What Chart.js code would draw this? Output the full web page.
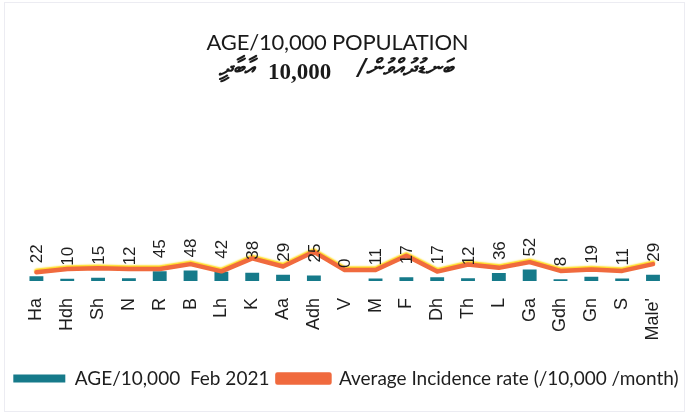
<!DOCTYPE html>
<html>
<head>
<meta charset="utf-8">
<script src="https://cdn.jsdelivr.net/npm/chart.js@4.4.1/dist/chart.umd.min.js"></script>
<style>
  html, body { margin: 0; padding: 0; background: #fff; }
  #wrap { position: relative; width: 692px; height: 417px; overflow: hidden; }
  #frame { position: absolute; left: 4px; top: 2px; width: 681px; height: 410px; border: 1px solid #ececf2; box-sizing: border-box; }
  canvas { position: absolute; left: 0; top: 0; }
  .t { position: absolute; white-space: nowrap; color: #1a1a1a; }
  #t1 { left: 0; width: 675px; top: 28px; text-align: center; font-family: Lato, "Open Sans", sans-serif; font-size: 22px; letter-spacing: -0.2px; }
  #t2a { right: 437px; top: 54px; font-family: "DejaVu Sans", "Noto Sans", sans-serif; font-size: 23px; font-style: italic; font-weight: bold; }
  #t2b { left: 268px; top: 59px; font-family: "Liberation Serif", serif; font-weight: bold; font-size: 23px; }
  #t2c { left: 358px; top: 54px; font-family: "DejaVu Sans", "Noto Sans", sans-serif; font-size: 23px; font-style: italic; font-weight: bold; }
</style>
</head>
<body>
<div id="wrap">
  <div id="frame"></div>
  <canvas id="c" width="692" height="417"></canvas>
  <div class="t" id="t1">AGE/10,000 POPULATION</div>
  <div class="t" id="t2a" dir="rtl">އާބާދީ</div>
  <div class="t" id="t2b">10,000</div>
  <div class="t" id="t2c" dir="rtl">ބަނޑުދުއްވުން/</div>
</div>
<script>
const categories = ["Ha","Hdh","Sh","N","R","B","Lh","K","Aa","Adh","V","M","F","Dh","Th","L","Ga","Gdh","Gn","S","Male'"];
const ageFeb2021 = [22,10,15,12,45,48,42,38,29,25,0,11,17,17,12,36,52,8,19,11,29];
const avgIncidence = [40,55,58,55,55,77,44,103,66,133,50,50,115,43,75,60,86,46,52,46,77];
const seriesNames = ["AGE/10,000  Feb 2021", "Average Incidence rate (/10,000 /month)"];

const barLabels = {
  id: 'barLabels',
  afterDatasetsDraw(chart) {
    const meta = chart.getDatasetMeta(0);
    const ctx = chart.ctx;
    ctx.save();
    ctx.font = '17px "Liberation Sans", Arial, sans-serif';
    ctx.fillStyle = '#1e1e1e';
    ctx.textAlign = 'left';
    ctx.textBaseline = 'middle';
    meta.data.forEach((el, i) => {
      ctx.save();
      ctx.translate(el.x + 1, el.y - 13);
      ctx.rotate(-Math.PI / 2);
      ctx.fillText(String(ageFeb2021[i]), 0, 0);
      ctx.restore();
    });
    ctx.restore();
  }
};

const lineGlow = {
  id: 'lineGlow',
  beforeDatasetDraw(chart, args) {
    if (args.index === 1) {
      const ctx = chart.ctx;
      ctx.save();
      ctx.shadowColor = 'rgba(255,214,0,0.9)';
      ctx.shadowOffsetY = -1.5;
      ctx.shadowBlur = 1.5;
    }
  },
  afterDatasetDraw(chart, args) {
    if (args.index === 1) chart.ctx.restore();
  }
};

new Chart(document.getElementById('c'), {
  data: {
    labels: categories,
    datasets: [
      {
        type: 'bar',
        label: seriesNames[0],
        data: ageFeb2021,
        backgroundColor: '#167a8a',
        borderWidth: 0,
        barPercentage: 0.45,
        categoryPercentage: 1.0,
        order: 1
      },
      {
        type: 'line',
        label: seriesNames[1],
        data: avgIncidence,
        borderColor: '#f06a3e',
        backgroundColor: '#f06a3e',
        borderWidth: 4.5,
        pointRadius: 0,
        tension: 0,
        borderCapStyle: 'round',
        borderJoinStyle: 'round',
        order: 0
      }
    ]
  },
  options: {
    responsive: false,
    animation: false,
    devicePixelRatio: 1,
    layout: { padding: { left: 0, right: 0, top: 110, bottom: 19 } },
    scales: {
      x: {
        grid: { display: false, drawTicks: false },
        border: { display: false },
        ticks: {
          color: '#1e1e1e',
          font: { family: '"Liberation Sans", Arial, sans-serif', size: 18 },
          minRotation: 90, maxRotation: 90,
          padding: 17,
          autoSkip: false
        },
        afterFit(s) { s.height = 80; }
      },
      y: {
        display: true, position: 'left', min: 0, max: 780,
        grid: { display: false }, border: { display: false },
        ticks: { display: false },
        afterFit(s) { s.width = 21; }
      },
      y2: {
        display: true, position: 'right', min: 0, max: 780,
        grid: { display: false }, border: { display: false },
        ticks: { display: false },
        afterFit(s) { s.width = 17; }
      }
    },
    plugins: {
      legend: {
        position: 'bottom',
        labels: {
          color: '#1e1e1e',
          font: { family: 'Lato, "Open Sans", sans-serif', size: 19 },
          boxWidth: 52,
          boxHeight: 8,
          padding: 8,
          sort: (a, b) => a.datasetIndex - b.datasetIndex
        }
      },
      tooltip: { enabled: false }
    }
  },
  plugins: [barLabels, lineGlow]
});
</script>
</body>
</html>
